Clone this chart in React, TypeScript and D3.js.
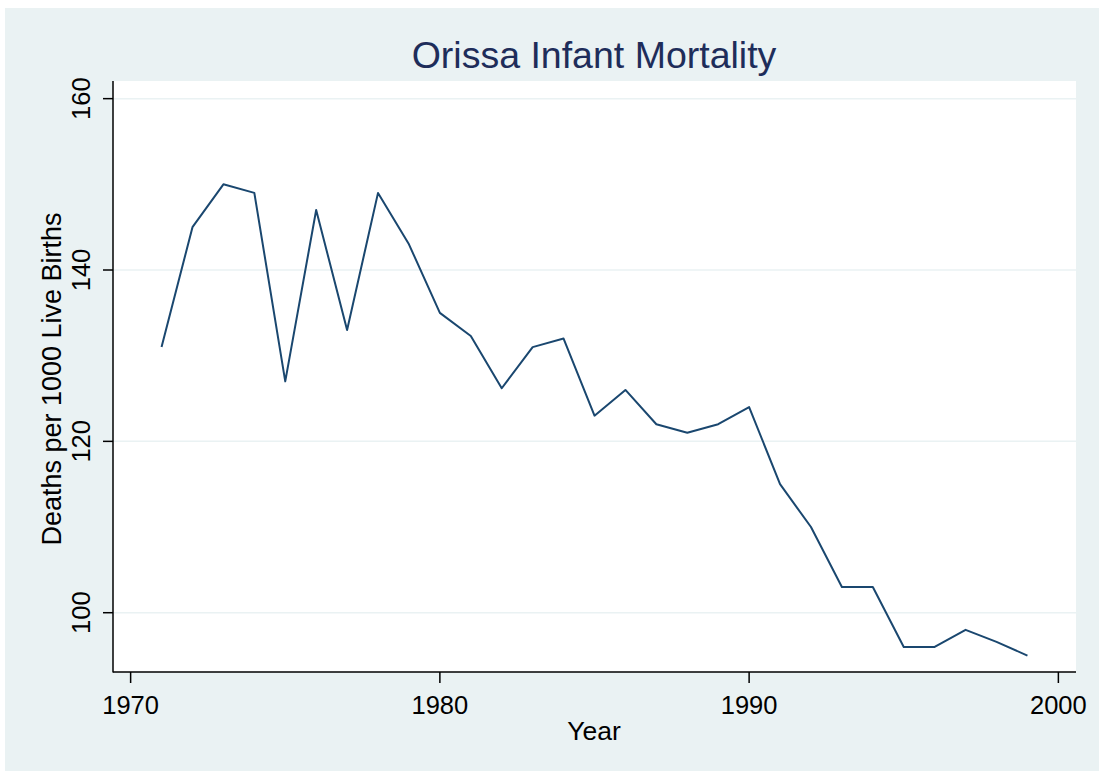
import { useEffect, useRef } from 'react';
import * as d3 from 'd3';

const YEARS = [1971, 1972, 1973, 1974, 1975, 1976, 1977, 1978, 1979, 1980, 1981, 1982, 1983, 1984, 1985,
  1986, 1987, 1988, 1989, 1990, 1991, 1992, 1993, 1994, 1995, 1996, 1997, 1998, 1999];
const DEATHS = [131, 145, 150, 149, 127, 147, 133, 149, 143, 135, 132.3, 126.2, 131, 132, 123,
  126, 122, 121, 122, 124, 115, 110, 103, 103, 96, 96, 98, 96.6, 95];
const X_TICKS = [1970, 1980, 1990, 2000];
const Y_TICKS = [100, 120, 140, 160];

const W = 1099;
const H = 771;

export default function App() {
  const svgRef = useRef<SVGSVGElement>(null);

  useEffect(() => {
    const el = svgRef.current;
    if (!el) return;
    const svg = d3.select(el);
    svg.selectAll('*').remove();

    const font = "'Liberation Sans', Arial, sans-serif";
    const left = 113, right = 1076, top = 81, bottom = 672;

    // graph region
    svg.append('rect').attr('x', 5).attr('y', 8).attr('width', W - 5).attr('height', H - 8).attr('fill', '#eaf2f3');
    // plot region
    svg.append('rect').attr('x', left).attr('y', top).attr('width', right - left).attr('height', bottom - top).attr('fill', '#ffffff');

    const x = d3.scaleLinear().domain([1969.43, 2000.57]).range([left, right]);
    const y = d3.scaleLinear().domain([93.08, 162.06]).range([bottom, top]);

    // grid
    svg.append('g').selectAll('line').data(Y_TICKS).join('line')
      .attr('x1', left).attr('x2', right)
      .attr('y1', (d) => y(d)).attr('y2', (d) => y(d))
      .attr('stroke', '#eaf2f3').attr('stroke-width', 1.5);

    // line
    const pts = YEARS.map((yr, i) => [yr, DEATHS[i]] as [number, number]);
    const line = d3.line<[number, number]>().x((d) => x(d[0])).y((d) => y(d[1]));
    svg.append('path').datum(pts).attr('d', line)
      .attr('fill', 'none').attr('stroke', '#1a476f').attr('stroke-width', 2).attr('stroke-linejoin', 'round');

    // axes lines
    svg.append('line').attr('x1', left).attr('x2', left).attr('y1', top).attr('y2', bottom + 0.5)
      .attr('stroke', '#000').attr('stroke-width', 1.5);
    svg.append('line').attr('x1', left).attr('x2', right).attr('y1', bottom).attr('y2', bottom)
      .attr('stroke', '#000').attr('stroke-width', 1.5);

    // y ticks
    const yt = svg.append('g');
    yt.selectAll('line').data(Y_TICKS).join('line')
      .attr('x1', left - 10).attr('x2', left).attr('y1', (d) => y(d)).attr('y2', (d) => y(d))
      .attr('stroke', '#000').attr('stroke-width', 1.5);
    yt.selectAll('text').data(Y_TICKS).join('text')
      .attr('transform', (d) => `translate(90,${y(d)}) rotate(-90)`)
      .attr('text-anchor', 'middle').attr('font-family', font).attr('font-size', 25.5).attr('fill', '#000')
      .text((d) => d);

    // x ticks
    const xt = svg.append('g');
    xt.selectAll('line').data(X_TICKS).join('line')
      .attr('x1', (d) => x(d)).attr('x2', (d) => x(d)).attr('y1', bottom).attr('y2', bottom + 11)
      .attr('stroke', '#000').attr('stroke-width', 1.5);
    xt.selectAll('text').data(X_TICKS).join('text')
      .attr('x', (d) => x(d)).attr('y', 714)
      .attr('text-anchor', 'middle').attr('font-family', font).attr('font-size', 25.5).attr('fill', '#000')
      .text((d) => d);

    // titles
    svg.append('text').attr('x', 594).attr('y', 740).attr('text-anchor', 'middle')
      .attr('font-family', font).attr('font-size', 26.5).attr('fill', '#000').text('Year');
    svg.append('text').attr('transform', 'translate(61,379) rotate(-90)').attr('text-anchor', 'middle')
      .attr('font-family', font).attr('font-size', 27).attr('fill', '#000').text('Deaths per 1000 Live Births');
    svg.append('text').attr('x', 594).attr('y', 68).attr('text-anchor', 'middle')
      .attr('font-family', font).attr('font-size', 37.5).attr('fill', '#1e2d5a').text('Orissa Infant Mortality');
  }, []);

  return (
    <div style={{ position: 'absolute', left: 0, top: 0 }}>
      <svg ref={svgRef} width={W} height={H} style={{ display: 'block', background: '#fff' }} />
    </div>
  );
}
